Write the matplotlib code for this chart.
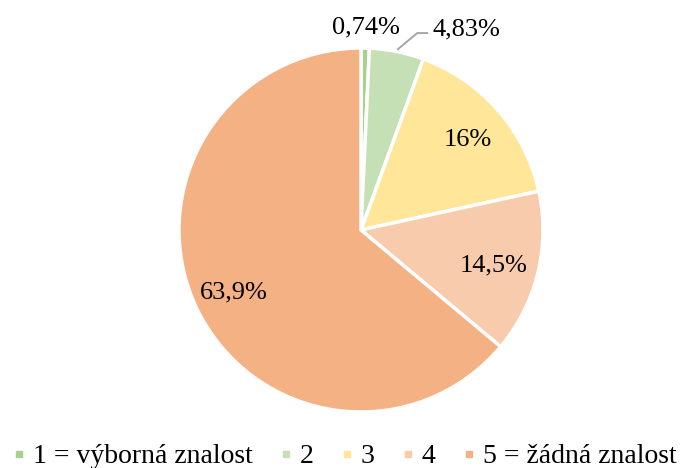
import matplotlib

matplotlib.use("Agg")
import matplotlib.pyplot as plt
import numpy as np
from matplotlib.lines import Line2D

LABELS = ["1 = výborná znalost", "2", "3", "4", "5 = žádná znalost"]
SHARES = [0.74, 4.83, 16.0, 14.5, 63.9]
PCT_TEXT = ["0,74%", "4,83%", "16%", "14,5%", "63,9%"]
COLORS = ["#A9D18E", "#C5E0B4", "#FFE699", "#F8CBAD", "#F4B183"]

plt.rcParams["font.family"] = ["Liberation Serif", "DejaVu Serif"]

fig = plt.figure(figsize=(6.84, 4.68), dpi=100)
W, H = 684, 468
cx, cy, r = 361, 230, 182
ax = fig.add_axes([(cx - r) / W, (H - cy - r) / H, 2 * r / W, 2 * r / H])

wedges, _ = ax.pie(SHARES, colors=COLORS, startangle=90, counterclock=False,
                   radius=1.0, wedgeprops=dict(edgecolor="white", linewidth=2.5))
ax.set_xlim(-1, 1)
ax.set_ylim(-1, 1)
ax.set_aspect("equal")

# radial distance of each label from centre (None = pulled out with leader)
dist = [1.13, None, 0.78, 0.75, 0.77]
for w, txt, d in zip(wedges, PCT_TEXT, dist):
    mid = np.deg2rad((w.theta1 + w.theta2) / 2)
    if d is None:
        x0, y0 = 1.01 * np.cos(mid), 1.01 * np.sin(mid)
        ex, ey = x0 + 0.11, 1.082
        ax.plot([x0, ex, ex + 0.06], [y0, ey, ey], color="#A6A6A6", lw=1.4,
                clip_on=False, solid_capstyle="butt")
        ax.annotate(txt, xy=(ex + 0.082, 1.121), xytext=(0, -6.5),
                    textcoords="offset points", fontsize=19,
                    ha="left", va="baseline", annotation_clip=False)
        continue
    ax.annotate(txt, xy=(d * np.cos(mid), d * np.sin(mid)), xytext=(0, -6.5),
                textcoords="offset points", fontsize=19,
                ha="center", va="baseline", annotation_clip=False)

handles = [Line2D([], [], marker="s", linestyle="none", markersize=4.8,
                  markerfacecolor=c, markeredgecolor=c) for c in COLORS]
fig.legend(handles, LABELS, loc="center", bbox_to_anchor=(0.505, 0.024),
           ncol=5, frameon=False, fontsize=20, handlelength=0.3,
           handletextpad=0.35, columnspacing=1.05, borderpad=0,
           borderaxespad=0)

fig.savefig("out.png", dpi=100)
